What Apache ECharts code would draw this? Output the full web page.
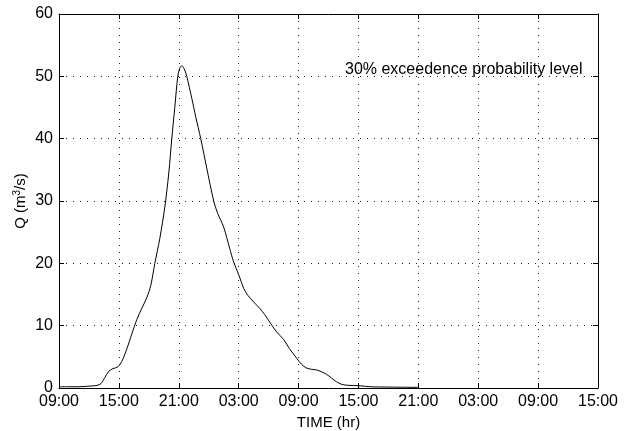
<!DOCTYPE html>
<html>
<head>
<meta charset="utf-8">
<script src="https://cdn.jsdelivr.net/npm/echarts@6/dist/echarts.min.js"></script>
<style>
  html, body { margin: 0; padding: 0; background: #fff; }
  #chart { width: 629px; height: 431px; }
</style>
</head>
<body>
<div id="chart"></div>
<script>
// hours after 09:00 on the first day
var hours = [0, 1, 2, 3, 3.8, 4.2, 4.6, 5.0, 5.4, 5.9, 6.3, 6.8, 7.3, 7.8, 8.3, 8.8, 9.2, 9.6,
    10.1, 10.6, 11.0, 11.3, 11.6, 11.9, 12.1, 12.3, 12.6, 12.8, 13.3, 13.7, 14.2, 14.8, 15.5,
    15.9, 16.5, 17.1, 17.5, 18.0, 18.5, 18.9, 19.5, 20.1, 20.6, 21.1, 21.8, 22.5, 23.1, 23.8,
    24.3, 24.8, 25.3, 25.8, 26.3, 26.8, 27.3, 27.8, 28.3, 28.8, 29.5, 30.2, 31.2, 33, 36];
var flow = [0.2, 0.2, 0.2, 0.3, 0.4, 0.7, 1.7, 2.7, 3.1, 3.4, 4.3, 6.3, 8.7, 11.0, 12.8, 14.5, 16.5, 20.0,
    24.0, 29.0, 34.5, 40.0, 45.0, 50.0, 51.3, 51.7, 51.0, 50.0, 46.5, 43.5, 40.0, 35.3, 30.0,
    28.0, 25.8, 22.4, 20.2, 18.2, 16.0, 14.9, 13.8, 12.8, 11.8, 10.6, 9.0, 7.8, 6.3, 4.8,
    3.8, 3.2, 3.0, 2.9, 2.6, 2.2, 1.6, 1.0, 0.6, 0.45, 0.4, 0.35, 0.2, 0.15, 0.1];
var startHour = 9;
var xMax = 54;
var yMax = 60;
var note = '30% exceedence probability level';

var font = 'Liberation Sans, Arial, sans-serif';

function clock(v) {
    var h = (startHour + Math.round(v)) % 24;
    return (h < 10 ? '0' : '') + h + ':00';
}

var chart = echarts.init(document.getElementById('chart'));

var dotted = { show: true, lineStyle: { color: '#222', width: 1, type: [1, 6] } };
var frame = { show: true, onZero: false, lineStyle: { color: '#000', width: 1 } };
var ticksIn = { show: true, inside: true, length: 5, lineStyle: { color: '#000' } };

chart.setOption({
    animation: false,
    grid: { left: 59, right: 31, top: 14, bottom: 43, outerBoundsMode: 'none', containLabel: false },
    xAxis: [
        {
            type: 'value', min: 0, max: xMax, interval: 6,
            name: 'TIME (hr)', nameLocation: 'middle', nameGap: 25,
            nameTextStyle: { fontFamily: font, fontSize: 15, color: '#000' },
            axisLine: frame, axisTick: ticksIn, splitLine: dotted,
            axisLabel: { fontFamily: font, fontSize: 16, color: '#000', margin: 6, formatter: clock }
        },
        {
            type: 'value', position: 'top', min: 0, max: xMax, interval: 6,
            axisLine: frame, axisTick: ticksIn, splitLine: { show: false },
            axisLabel: { show: false }
        }
    ],
    yAxis: [
        {
            type: 'value', min: 0, max: yMax, interval: 10,
            name: 'Q (m{sup|3}/s)', nameLocation: 'middle', nameGap: 29, nameRotate: 90,
            nameMoveOverlap: false,
            nameTextStyle: {
                fontFamily: font, fontSize: 15, color: '#000',
                rich: { sup: { fontFamily: font, fontSize: 10, color: '#000', verticalAlign: 'bottom', padding: [0, 0, 8, 0] } }
            },
            axisLine: frame, axisTick: ticksIn, splitLine: dotted,
            axisLabel: { fontFamily: font, fontSize: 16, color: '#000', margin: 6 }
        },
        {
            type: 'value', position: 'right', min: 0, max: yMax, interval: 10,
            axisLine: frame, axisTick: ticksIn, splitLine: { show: false },
            axisLabel: { show: false }
        }
    ],
    graphic: [
        {
            type: 'text', left: 345, top: 62,
            style: { text: note, fontFamily: font, fontSize: 16, fill: '#000' }
        }
    ],
    series: [
        {
            type: 'line',
            data: hours.map(function (h, i) { return [h, flow[i]]; }),
            smooth: 0.3,
            showSymbol: false,
            lineStyle: { color: '#000', width: 1 }
        }
    ]
});
</script>
</body>
</html>
